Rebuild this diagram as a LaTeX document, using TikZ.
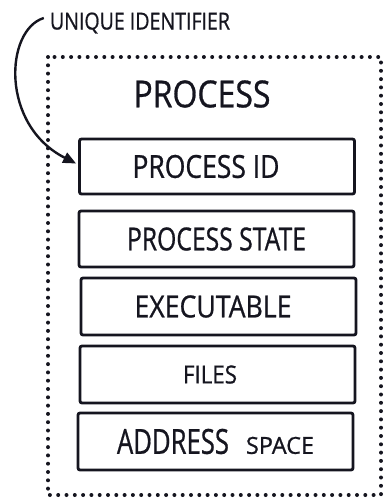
\documentclass[tikz,border=0pt]{standalone}
\usepackage{fontspec}
\setmainfont[FakeBold=0.8]{Open Sans}
\usepackage{graphicx}
\usetikzlibrary{arrows.meta}
\newcommand{\fitt}[3]{\resizebox{#1}{#2}{#3}}
\definecolor{ink}{HTML}{15151F}
\begin{document}
\begin{tikzpicture}[x=1pt,y=-1pt,
  field/.style={draw=ink, line width=2.8pt, rounded corners=2pt, minimum width=275pt, inner sep=0pt, text=ink, fill=white},
  dotbox/.style={draw=ink, line width=4pt, line cap=round, dash pattern=on 0pt off 8.3pt},
  pointer/.style={draw=ink, line width=2.4pt, -{Triangle[length=13pt,width=11pt]}}]
\useasboundingbox (0,0) rectangle (385,498);
\draw[dotbox] (48,57) rectangle (381,495);
\node[text=ink, inner sep=0pt] (title) at (202,94) {\fitt{137pt}{27pt}{PROCESS}};
\node[text=ink, inner sep=0pt] (uid) at (140,23) {\fitt{180pt}{17pt}{UNIQUE IDENTIFIER}};
\node[field, minimum height=55pt] (pid) at (217,166.5) {\fitt{147pt}{23pt}{PROCESS ID}\hspace*{22pt}};
\node[field, minimum height=56pt] (pstate) at (216.5,239) {\fitt{179pt}{23pt}{PROCESS STATE}};
\node[field, minimum height=57pt] (exec) at (218.5,306.5) {\fitt{157pt}{22pt}{EXECUTABLE}\hspace*{11pt}};
\node[field, minimum height=57pt] (files) at (217.5,374.5) {\fitt{54pt}{18pt}{FILES}\hspace*{15pt}};
\node[field, minimum height=57pt] (addr) at (215.5,441.5) {\fitt{112pt}{25pt}{ADDRESS}\hspace{17pt}\fitt{68pt}{17pt}{SPACE}};
\draw[pointer] ([xshift=-6pt,yshift=5pt]uid.west) .. controls (5,30) and (0,125) .. ([xshift=-2pt,yshift=3pt]pid.west);
\end{tikzpicture}
\end{document}
